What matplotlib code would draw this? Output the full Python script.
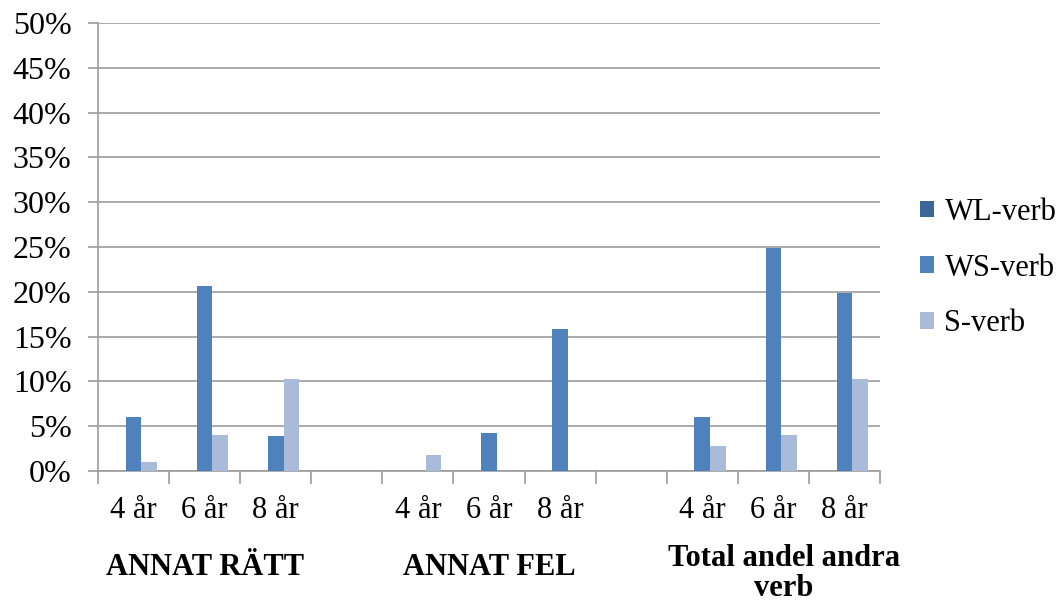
import numpy as np
import matplotlib
matplotlib.use('Agg')
import matplotlib.pyplot as plt
from matplotlib.ticker import PercentFormatter, MultipleLocator

# slot labels along the x axis (empty slots separate the groups)
categories = ['4 år', '6 år', '8 år', '', '4 år', '6 år', '8 år', '', '4 år', '6 år', '8 år']
groups = ['ANNAT RÄTT', 'ANNAT FEL', 'Total andel andra\nverb']
group_slots = [1, 5, 9.15]

series = ['WL-verb', 'WS-verb', 'S-verb']
nan = np.nan
wl_verb = [0, 0, 0, nan, 0, 0, 0, nan, 0, 0, 0]
ws_verb = [6.0, 20.7, 3.9, nan, 0, 4.2, 15.9, nan, 6.0, 24.9, 19.9]
s_verb = [1.0, 4.0, 10.3, nan, 1.8, 0, 0, nan, 2.8, 4.0, 10.3]

colors = ['#3C6699', '#4F81BD', '#AABAD9']
grid_col = '#9C9C9C'

plt.rcParams['font.family'] = ['Liberation Serif', 'DejaVu Serif']

fig = plt.figure(figsize=(10.64, 6.06), dpi=100)
ax = fig.add_axes([98 / 1064, 1 - 471 / 606, (880 - 98) / 1064, (471 - 23) / 606])

x = np.arange(len(categories))
w = 0.22
for i, (vals, name) in enumerate(zip([wl_verb, ws_verb, s_verb], series)):
    v = np.array(vals, dtype=float)
    m = ~np.isnan(v)
    ax.bar(x[m] + (i - 1) * w, v[m], width=w, color=colors[i], label=name,
           zorder=3, linewidth=0)

ax.set_xlim(-0.5, len(categories) - 0.5)
ax.set_ylim(0, 50)
ax.yaxis.set_major_locator(MultipleLocator(5))
ax.yaxis.set_major_formatter(PercentFormatter(decimals=0))
ax.grid(axis='y', color=grid_col, linewidth=1.2, zorder=0)
ax.set_axisbelow(True)

for sp in ['top', 'right']:
    ax.spines[sp].set_visible(False)
for sp in ['left', 'bottom']:
    ax.spines[sp].set_color(grid_col)
    ax.spines[sp].set_linewidth(1.2)

ax.tick_params(axis='y', length=7, width=1.2, color=grid_col, labelsize=23, pad=12)
ax.set_xticks(x)
ax.set_xticklabels(categories)
ax.tick_params(axis='x', which='major', length=0, labelsize=22, pad=18)
ax.set_xticks(np.arange(-0.5, len(categories)), minor=True)
ax.tick_params(axis='x', which='minor', length=9, width=1.2, color=grid_col)

# group labels under the slot labels; the two-line one sits a bit higher
group_y = [-0.183, -0.183, -0.163]
for g, xs, gy in zip(groups, group_slots, group_y):
    ax.text(xs, gy, g, transform=ax.get_xaxis_transform(), ha='center', va='top',
            fontsize=22, fontweight='bold', linespacing=1.05)

ax.legend(loc='center left', bbox_to_anchor=(920 / 1064, 1 - 268 / 606),
          bbox_transform=fig.transFigure, frameon=False, fontsize=22,
          handlelength=0.45, handleheight=0.45, handletextpad=0.35,
          labelspacing=0.88, borderpad=0, borderaxespad=0)

fig.savefig('out.png', dpi=100)
